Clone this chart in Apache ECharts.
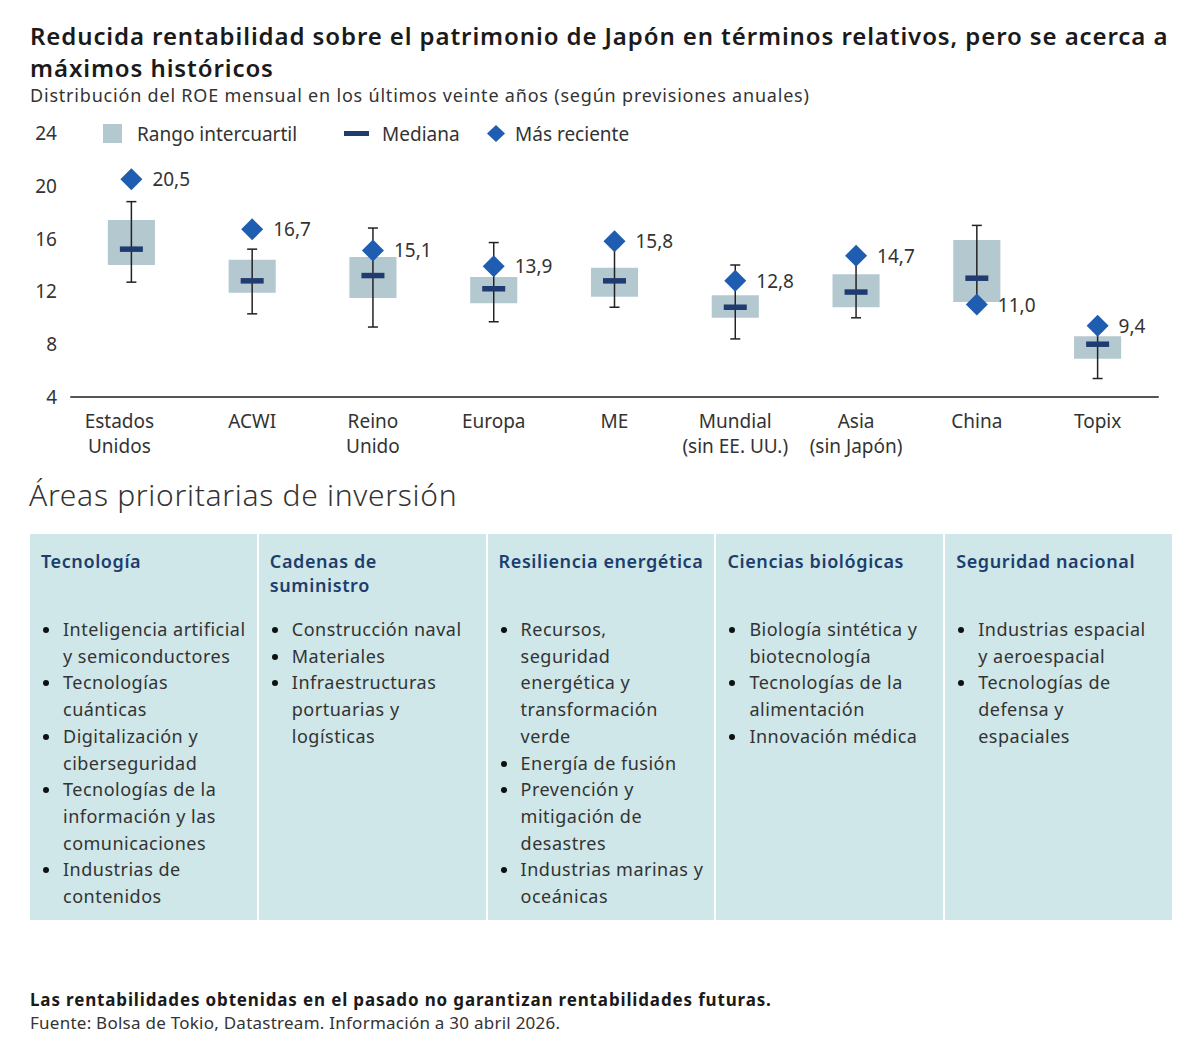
<!DOCTYPE html>
<html>
<head>
<meta charset="utf-8">
<script src="https://cdn.jsdelivr.net/npm/echarts@6/dist/echarts.min.js"></script>
<style>
  html, body { margin: 0; padding: 0; background: #fff; }
  body { width: 1200px; height: 1054px; position: relative; overflow: hidden; font-family: "Noto Sans", Lato, sans-serif; color: #333; }
  #title { position: absolute; left: 30px; top: 20px; width: 1165px; font-size: 24px; font-weight: 600; line-height: 32px; letter-spacing: 0.9px; color: #1a1a1a; white-space: nowrap; }
  #subtitle { position: absolute; left: 30px; top: 84px; font-size: 18px; line-height: 22px; letter-spacing: 0.8px; color: #333; white-space: nowrap; }
  #chart { position: absolute; left: 0; top: 0; width: 1200px; height: 470px; }
  #areas { position: absolute; left: 29px; top: 477px; font-size: 30px; font-weight: 300; line-height: 36px; letter-spacing: 0.7px; color: #333; white-space: nowrap; }
  #panel { position: absolute; left: 30px; top: 534px; width: 1142px; height: 386px; display: flex; background: #fff; }
  .col { position: relative; flex: 1 1 0; background: #cfe7e8; margin-right: 2px; }
  .col:last-child { margin-right: 0; }
  .hd { position: absolute; left: 11px; top: 15px; font-size: 18px; font-weight: 600; line-height: 24px; letter-spacing: 0.6px; color: #1c3d6e; white-space: nowrap; }
  .items { position: absolute; left: 0; top: 82px; right: 0; }
  .it { position: relative; padding-left: 33px; font-size: 18px; line-height: 26.7px; letter-spacing: 0.5px; color: #333; white-space: nowrap; }
  .dot { position: absolute; left: 13px; top: 11px; width: 6px; height: 6px; border-radius: 50%; background: #111; }
  #foot1 { position: absolute; left: 30px; top: 989px; font-size: 17px; font-weight: 700; line-height: 22px; letter-spacing: 0.85px; color: #1a1a1a; white-space: nowrap; }
  #foot2 { position: absolute; left: 30px; top: 1012px; font-size: 17px; line-height: 22px; letter-spacing: 0.25px; color: #333; white-space: nowrap; }
</style>
</head>
<body>
<div id="title">Reducida rentabilidad sobre el patrimonio de Japón en términos relativos, pero se acerca a<br>máximos históricos</div>
<div id="subtitle">Distribución del ROE mensual en los últimos veinte años (según previsiones anuales)</div>
<div id="chart"></div>
<div id="areas">Áreas prioritarias de inversión</div>
<div id="panel"></div>
<div id="foot1">Las rentabilidades obtenidas en el pasado no garantizan rentabilidades futuras.</div>
<div id="foot2">Fuente: Bolsa de Tokio, Datastream. Información a 30 abril 2026.</div>
<script>
// ---- Chart data ----
var categories = ['Estados\nUnidos', 'ACWI', 'Reino\nUnido', 'Europa', 'ME', 'Mundial\n(sin EE. UU.)', 'Asia\n(sin Japón)', 'China', 'Topix'];
var whiskerLow  = [12.7, 10.3, 9.3, 9.7, 10.8, 8.4, 10.0, 10.8, 5.4];
var q1          = [14.0, 11.9, 11.5, 11.1, 11.6, 10.0, 10.8, 11.2, 6.9];
var median      = [15.2, 12.8, 13.2, 12.2, 12.8, 10.8, 11.95, 13.0, 8.0];
var q3          = [17.4, 14.4, 14.6, 13.1, 13.8, 11.7, 13.3, 15.9, 8.6];
var whiskerHigh = [18.8, 15.2, 16.8, 15.7, 15.4, 14.0, 14.4, 17.0, 9.0];
var latest      = [20.5, 16.7, 15.1, 13.9, 15.8, 12.8, 14.7, 11.0, 9.4];
var yTicks = { min: 4, max: 24, interval: 4 };

// ---- Panel text ----
var panelHeaders = ['Tecnología', 'Cadenas de\nsuministro', 'Resiliencia energética', 'Ciencias biológicas', 'Seguridad nacional'];
var panelItems = [
  ['Inteligencia artificial\ny semiconductores', 'Tecnologías\ncuánticas', 'Digitalización y\nciberseguridad', 'Tecnologías de la\ninformación y las\ncomunicaciones', 'Industrias de\ncontenidos'],
  ['Construcción naval', 'Materiales', 'Infraestructuras\nportuarias y\nlogísticas'],
  ['Recursos,\nseguridad\nenergética y\ntransformación\nverde', 'Energía de fusión', 'Prevención y\nmitigación de\ndesastres', 'Industrias marinas y\noceánicas'],
  ['Biología sintética y\nbiotecnología', 'Tecnologías de la\nalimentación', 'Innovación médica'],
  ['Industrias espacial\ny aeroespacial', 'Tecnologías de\ndefensa y\nespaciales']
];

function esc(s) { return s.replace(/&/g, '&amp;').replace(/</g, '&lt;'); }
var panel = document.getElementById('panel');
panelHeaders.forEach(function (h, i) {
  var col = document.createElement('div');
  col.className = 'col';
  var html = '<div class="hd">' + esc(h).replace(/\n/g, '<br>') + '</div><div class="items">';
  panelItems[i].forEach(function (t) {
    html += '<div class="it"><span class="dot"></span>' + esc(t).replace(/\n/g, '<br>') + '</div>';
  });
  html += '</div>';
  col.innerHTML = html;
  panel.appendChild(col);
});

// ---- Chart ----
var BOX_COLOR = '#b4c8d0', MED_COLOR = '#1f3b6f', DIA_COLOR = '#1f5db0';
var FONT = '"Noto Sans", Lato, sans-serif';
var FS = 19;
var chart = echarts.init(document.getElementById('chart'), null, { renderer: 'svg' });
var boxData = categories.map(function (c, i) { return [i, q1[i], q3[i]]; });
var whiskData = categories.map(function (c, i) { return [i, whiskerLow[i], whiskerHigh[i]]; });
var xData = categories.map(function (c, i) {
  return i === 0 ? { value: c, textStyle: { padding: [0, 24, 0, 0] } } : c;
});

chart.setOption({
  animation: false,
  textStyle: { fontFamily: FONT },
  grid: { left: 71, right: 42, top: 133, bottom: 73 },
  legend: [
    { left: 103, top: 124, padding: 0, itemWidth: 19, itemHeight: 19, selectedMode: false,
      textStyle: { fontSize: FS, color: '#333', padding: [0, 0, 0, 10] },
      data: [{ name: 'Rango intercuartil', icon: 'rect', itemStyle: { color: BOX_COLOR } }] },
    { left: 344, top: 124, padding: 0, itemWidth: 25, itemHeight: 5, selectedMode: false,
      textStyle: { fontSize: FS, color: '#333', padding: [0, 0, 0, 8] },
      data: [{ name: 'Mediana', icon: 'rect', itemStyle: { color: MED_COLOR } }] },
    { left: 487, top: 124, padding: 0, itemWidth: 18, itemHeight: 17, selectedMode: false,
      textStyle: { fontSize: FS, color: '#333', padding: [0, 0, 0, 5] },
      data: [{ name: 'Más reciente', icon: 'diamond', itemStyle: { color: DIA_COLOR } }] }
  ],
  xAxis: {
    type: 'category', data: xData,
    axisLine: { lineStyle: { color: '#555', width: 2 } },
    axisTick: { show: false },
    axisLabel: { interval: 0, fontSize: FS, color: '#333', lineHeight: 25, margin: 11 }
  },
  yAxis: {
    type: 'value', min: yTicks.min, max: yTicks.max, interval: yTicks.interval,
    axisLine: { show: false }, axisTick: { show: false }, splitLine: { show: false },
    axisLabel: { fontSize: FS, color: '#333', margin: 14 }
  },
  series: [
    {
      name: 'Rango intercuartil', type: 'custom', data: boxData,
      itemStyle: { color: BOX_COLOR },
      encode: { x: 0, y: [1, 2] },
      renderItem: function (params, api) {
        var lo = api.coord([api.value(0), api.value(1)]);
        var hi = api.coord([api.value(0), api.value(2)]);
        var w = api.size([1, 0])[0] * 0.39;
        return { type: 'rect', shape: { x: lo[0] - w / 2, y: hi[1], width: w, height: lo[1] - hi[1] },
                 style: { fill: BOX_COLOR } };
      },
      z: 1
    },
    {
      name: 'Rango', type: 'custom', data: whiskData,
      encode: { x: 0, y: [1, 2] },
      renderItem: function (params, api) {
        var lo = api.coord([api.value(0), api.value(1)]);
        var hi = api.coord([api.value(0), api.value(2)]);
        var c = 5;
        var st = { stroke: '#222', lineWidth: 1.5 };
        return { type: 'group', children: [
          { type: 'line', shape: { x1: lo[0], y1: lo[1], x2: hi[0], y2: hi[1] }, style: st },
          { type: 'line', shape: { x1: lo[0] - c, y1: lo[1], x2: lo[0] + c, y2: lo[1] }, style: st },
          { type: 'line', shape: { x1: hi[0] - c, y1: hi[1], x2: hi[0] + c, y2: hi[1] }, style: st }
        ] };
      },
      z: 2
    },
    {
      name: 'Mediana', type: 'scatter', data: median,
      symbol: 'rect', symbolSize: [23, 5.5],
      itemStyle: { color: MED_COLOR, opacity: 1 },
      z: 3
    },
    {
      name: 'Más reciente', type: 'scatter', data: latest,
      symbol: 'diamond', symbolSize: [22, 22],
      itemStyle: { color: DIA_COLOR, opacity: 1 },
      label: {
        show: true, position: 'right', distance: 10, fontSize: FS, color: '#333',
        formatter: function (p) { return p.value.toFixed(1).replace('.', ','); }
      },
      z: 4
    }
  ]
});
</script>
</body>
</html>
